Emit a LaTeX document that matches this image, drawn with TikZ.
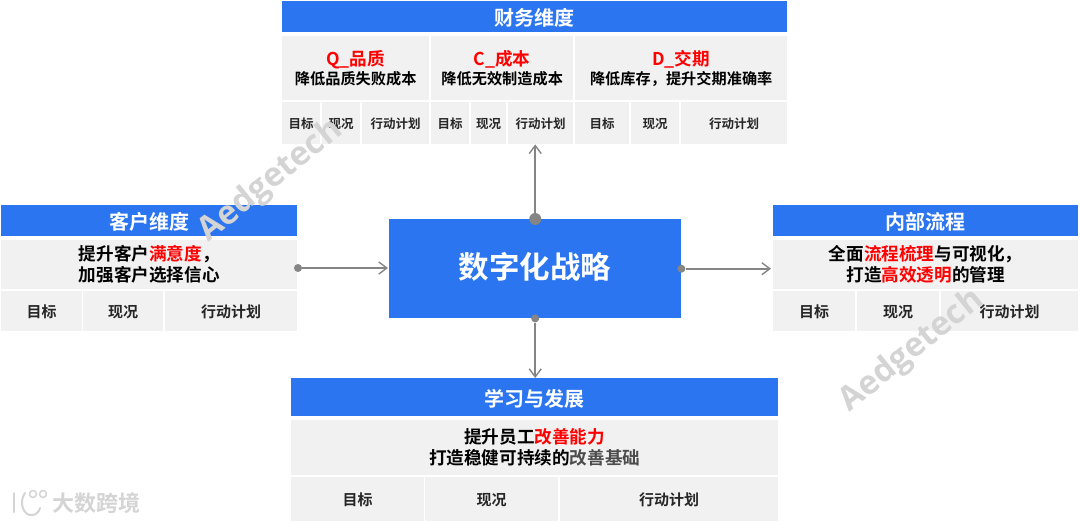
\documentclass[tikz,border=0pt]{standalone}
\usepackage{fontspec}
\setmainfont{Noto Sans CJK SC}[BoldFont={* Bold}]
\setsansfont{Open Sans}
\usepackage{xcolor}
\usetikzlibrary{positioning}
\usetikzlibrary{arrows.meta}
\definecolor{headblue}{HTML}{2B75F0}
\definecolor{cellgray}{HTML}{F1F1F1}
\definecolor{linegray}{HTML}{858585}
\definecolor{markred}{HTML}{FF0000}
\newcommand{\hl}[1]{\textcolor{markred}{#1}}
\newcommand{\fs}[2]{\fontsize{#1}{#2}\selectfont}
\tikzset{
    headbox/.style={draw=none, fill=headblue, text=white, inner sep=0pt, text height=18pt, text depth=0pt, font=\fs{20}{24}\bfseries},
    textbox/.style={draw=none, fill=cellgray, text=black, inner sep=0pt, align=center, font=\fs{17.6}{21}\bfseries},
    fintext/.style={textbox, font=\fs{15.2}{19}\bfseries},
    itembox/.style={draw=none, fill=cellgray, text=black!85, inner sep=0pt, text height=12pt, text depth=0pt, font=\fs{15}{18}\bfseries},
    smallbox/.style={itembox, text height=10pt, font=\fs{12.5}{15}\bfseries},
    mark dot/.style={circle, fill=linegray, draw=none, inner sep=0pt, minimum size=#1},
    flow/.style={draw=linegray, line width=1.6pt, -{Straight Barb[length=8pt,width=12pt,line width=1.4pt]}},
    stamp/.style={text=black!17, font=\sffamily\bfseries\fs{33}{36}, rotate=39, inner sep=0pt},
    logoline/.style={draw=black!17, line width=2pt, line cap=round}
}
\newcommand{\cell}[6]{\node[#1, minimum width=#5-#3, minimum height=#6-#4, anchor=north west] (#2) at (#3,-#4)}
\newcommand{\bigred}[1]{{\fs{17.6}{19}\hl{#1}}}
\begin{document}
\begin{tikzpicture}[x=1pt, y=1pt]
    \useasboundingbox (0,0) rectangle (1080,-523);

    % Center
    \cell{headbox, font=\fs{30.5}{36}\bfseries, text height=20pt}{strategy}{389}{219}{681}{318} {数字化战略};

    % Finance
    \cell{headbox}{finHead}{282}{1}{787}{32} {财务维度};
    \cell{fintext}{finQ}{282}{36}{429}{100} {\bigred{Q\_品质}\\降低品质失败成本};
    \cell{fintext}{finC}{431}{36}{573}{100} {\bigred{C\_成本}\\降低无效制造成本};
    \cell{fintext}{finD}{575}{36}{787}{100} {\bigred{D\_交期}\\降低库存，提升交期准确率};
    \cell{smallbox}{finQa}{282}{102}{320}{144} {目标};
    \cell{smallbox}{finQb}{322}{102}{360}{144} {现况};
    \cell{smallbox}{finQc}{362}{102}{429}{144} {行动计划};
    \cell{smallbox}{finCa}{431}{102}{469}{144} {目标};
    \cell{smallbox}{finCb}{471}{102}{506}{144} {现况};
    \cell{smallbox}{finCc}{508}{102}{573}{144} {行动计划};
    \cell{smallbox}{finDa}{575}{102}{629}{144} {目标};
    \cell{smallbox}{finDb}{631}{102}{679}{144} {现况};
    \cell{smallbox}{finDc}{681}{102}{787}{144} {行动计划};

    % Customer
    \cell{headbox}{cusHead}{1}{205}{297}{236} {客户维度};
    \cell{textbox}{cusText}{1}{240}{297}{289} {提升客户\hl{满意度}，\\加强客户选择信心};
    \cell{itembox}{cusA}{1}{291}{82}{331} {目标};
    \cell{itembox}{cusB}{83}{291}{163}{331} {现况};
    \cell{itembox}{cusC}{165}{291}{297}{331} {行动计划};

    % Process
    \cell{headbox}{proHead}{773}{205}{1078}{236} {内部流程};
    \cell{textbox}{proText}{773}{240}{1078}{289} {全面\hl{流程梳理}与可视化，\\打造\hl{高效透明}的管理};
    \cell{itembox}{proA}{773}{291}{855}{331} {目标};
    \cell{itembox}{proB}{857}{291}{939}{331} {现况};
    \cell{itembox}{proC}{941}{291}{1078}{331} {行动计划};

    % Learning
    \cell{headbox}{leaHead}{291}{378}{778}{416} {学习与发展};
    \cell{textbox}{leaText}{291}{420}{778}{475} {提升员工\hl{改善能力}\\打造稳健可持续的\textcolor{black!70}{改善基础}};
    \cell{itembox}{leaA}{291}{477}{424}{521} {目标};
    \cell{itembox}{leaB}{425}{477}{558}{521} {现况};
    \cell{itembox}{leaC}{560}{477}{778}{521} {行动计划};

    % Connectors
    \node[mark dot=12pt] (dotTop) at (strategy.north) {};
    \node[mark dot=8pt] (dotBottom) at (strategy.south) {};
    \node[mark dot=8pt] (dotRight) at (strategy.east) {};
    \node[mark dot=8pt] (dotLeft) at (298,-268) {};
    \draw[flow] (dotTop) -- (dotTop |- finCc.south);
    \draw[flow] (dotBottom) -- (dotBottom |- leaHead.north);
    \draw[flow] (dotRight) -- ([xshift=-2pt]proHead.west |- dotRight);
    \draw[flow] (dotLeft) -- ([xshift=-1pt]strategy.west |- dotLeft);

    % Watermarks
    \node[stamp] (stampLeft) at (271,-181) {Aedgetech};
    \node[stamp] (stampRight) at (912,-351) {Aedgetech};

    % Logo
    \draw[logoline] (14,-493) -- (14,-512);
    \draw[logoline] (25,-493) .. controls (18,-503) and (24,-516) .. (32,-515) .. controls (36,-515) and (39,-512) .. (40,-508);
    \draw[logoline, line width=1.5pt] (33,-494) circle (3.5);
    \draw[logoline, line width=1.5pt] (43,-494) circle (3.5);
    \node[text=black!17, font=\fs{22}{24}\bfseries, anchor=west, inner sep=0pt] (logoText) at (52,-503) {大数跨境};
\end{tikzpicture}
\end{document}
